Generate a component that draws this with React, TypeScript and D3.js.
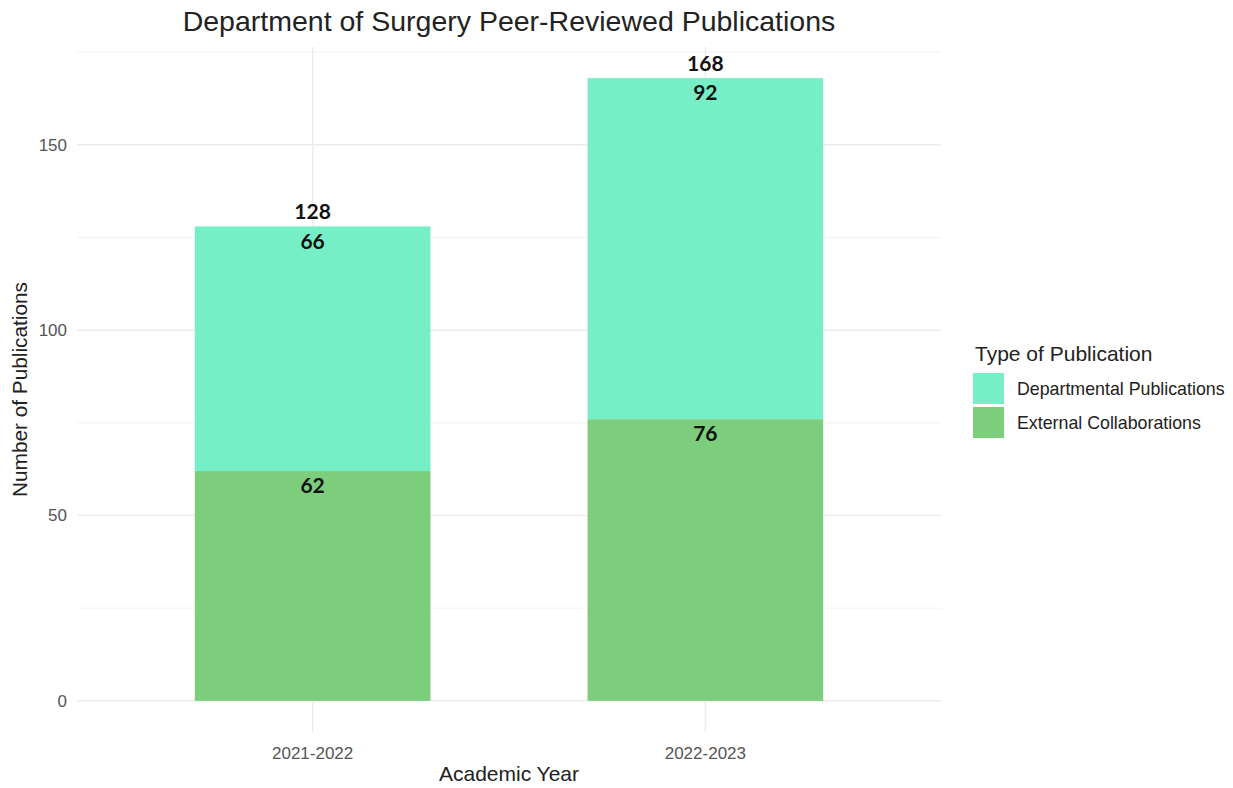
import React from 'react';
import * as d3 from 'd3';

const years = ['2021-2022', '2022-2023'];
const types = ['Departmental Publications', 'External Collaborations'];
const external = [62, 76];
const departmental = [66, 92];
const totals = [128, 168];
const yTicks = [0, 50, 100, 150];
const yMinor = [25, 75, 125, 175];
const colors = ['#76EEC6', '#7CCD7C'];

const W = 1233;
const H = 788;
const panel = { left: 77, right: 941, top: 47, bottom: 732 };

export default function App() {
  const maxTotal = d3.max(totals) ?? 0;
  const pad = maxTotal * 0.05;
  const y = d3.scaleLinear().domain([-pad, maxTotal + pad]).range([panel.bottom, panel.top]);
  const x = d3.scaleBand().domain(years).range([panel.left, panel.right]).paddingOuter(0.3).paddingInner(0.4);
  const bw = x.bandwidth();
  const cx = (d: string) => (x(d) ?? 0) + bw / 2;

  const stacked = years.map((yr, i) => ({
    year: yr,
    ext: external[i],
    dep: departmental[i],
    total: totals[i],
  }));

  const font = 'Liberation Sans, Arial, sans-serif';
  const labelFont = 'Lato, Open Sans, sans-serif';

  return (
    <svg width={W} height={H} style={{ position: 'absolute', left: 0, top: 0, background: '#fff' }}>
      <g>
        {yMinor.map((t) => (
          <line key={'mn' + t} x1={panel.left} x2={panel.right} y1={y(t)} y2={y(t)} stroke="#f3f3f3" strokeWidth={1} />
        ))}
        {yTicks.map((t) => (
          <line key={'mj' + t} x1={panel.left} x2={panel.right} y1={y(t)} y2={y(t)} stroke="#ececec" strokeWidth={1.5} />
        ))}
        {years.map((yr) => (
          <line key={'v' + yr} x1={cx(yr)} x2={cx(yr)} y1={panel.top} y2={panel.bottom} stroke="#ececec" strokeWidth={1.5} />
        ))}
      </g>
      <g>
        {stacked.map((d) => (
          <g key={d.year}>
            <rect x={x(d.year)} width={bw} y={y(d.ext)} height={y(0) - y(d.ext)} fill={colors[1]} />
            <rect x={x(d.year)} width={bw} y={y(d.total)} height={y(d.ext) - y(d.total)} fill={colors[0]} />
          </g>
        ))}
      </g>
      <g fontFamily={labelFont} fontWeight={700} fontSize={21} fill="#111" textAnchor="middle">
        {stacked.map((d) => (
          <g key={'l' + d.year}>
            <text x={cx(d.year)} y={y(d.total + 4)} dy="0.35em">{d.total}</text>
            <text x={cx(d.year)} y={y(d.total - 4)} dy="0.35em">{d.dep}</text>
            <text x={cx(d.year)} y={y(d.ext - 4)} dy="0.35em">{d.ext}</text>
          </g>
        ))}
      </g>
      <g fontFamily={font} fontSize={17} fill="#555">
        {yTicks.map((t) => (
          <text key={'yt' + t} x={panel.left - 10} y={y(t)} dy="0.35em" textAnchor="end">{t}</text>
        ))}
        {years.map((yr) => (
          <text key={'xt' + yr} x={cx(yr)} y={panel.bottom + 27} textAnchor="middle">{yr}</text>
        ))}
      </g>
      <text x={(panel.left + panel.right) / 2} y={31} textAnchor="middle" fontFamily={font} fontSize={28.5} fill="#222">
        Department of Surgery Peer-Reviewed Publications
      </text>
      <text x={(panel.left + panel.right) / 2} y={781} textAnchor="middle" fontFamily={font} fontSize={21} fill="#222">
        Academic Year
      </text>
      <text
        transform={`translate(27,${(panel.top + panel.bottom) / 2}) rotate(-90)`}
        textAnchor="middle"
        fontFamily={font}
        fontSize={20.8}
        fill="#222"
      >
        Number of Publications
      </text>
      <g transform="translate(973,0)" fontFamily={font}>
        <text x={2} y={361} fontSize={21} fill="#222">Type of Publication</text>
        {types.map((t, i) => (
          <g key={t} transform={`translate(0,${373 + i * 34})`}>
            <rect width={31} height={31} fill={colors[i]} />
            <text x={44} y={16} dy="0.35em" fontSize={17.8} fill="#222">{t}</text>
          </g>
        ))}
      </g>
    </svg>
  );
}
